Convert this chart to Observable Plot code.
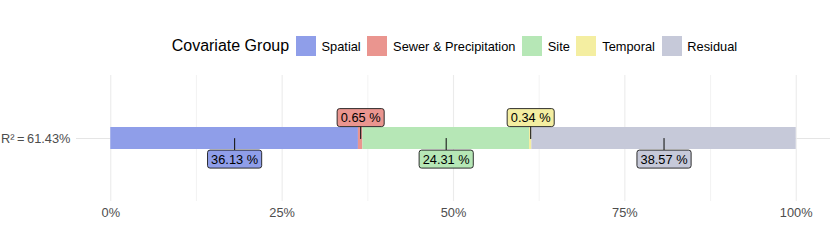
<!DOCTYPE html>
<html><head><meta charset="utf-8">
<script src="https://cdn.jsdelivr.net/npm/d3@7"></script>
<script src="https://cdn.jsdelivr.net/npm/@observablehq/plot@0.6"></script>
<style>
body{margin:0;background:#fff;font-family:"Liberation Sans",Arial,Helvetica,sans-serif;}
#wrap{position:relative;width:830px;height:249px;overflow:hidden;}
#legend{position:absolute;left:171.7px;top:36px;height:20px;display:flex;align-items:center;white-space:nowrap;color:#000;}
#legend .title{font-size:16px;margin-right:6.7px;}
#legend .key{width:20px;height:20px;flex:none;}
#legend .lab{font-size:12.8px;margin-left:5.8px;margin-right:6.6px;}
#chart{position:absolute;left:0;top:0;}
</style></head>
<body><div id="wrap"><div id="legend"></div><div id="chart"></div></div>
<script>
const legendTitle = "Covariate Group";
const groups = ["Spatial", "Sewer & Precipitation", "Site", "Temporal", "Residual"];
const shares = [36.13, 0.65, 24.31, 0.34, 38.57];
const colors = ["#8F9EE9", "#EA958F", "#B6E7B6", "#F4EEA1", "#C6C9D9"];
const rowLabel = "R\u00B2\u2009=\u200961.43%";
const xTicks = [0, 25, 50, 75, 100];
const xMinorTicks = [12.5, 37.5, 62.5, 87.5];

const data = groups.map((g, i) => ({group: g, value: shares[i], row: rowLabel}));
const isSmall = d => d.value < 5;
const fmt = d => d.toFixed(2) + " %";

// legend
const leg = d3.select("#legend");
leg.append("span").attr("class", "title").text(legendTitle);
groups.forEach((g, i) => {
  leg.append("div").attr("class", "key").style("background", colors[i]);
  leg.append("span").attr("class", "lab").text(g);
});

const lineShape = {draw(context, l) { context.moveTo(0, 0); context.lineTo(0, -l); }};

const plot = Plot.plot({
  width: 830,
  height: 249,
  marginLeft: 76,
  marginRight: 0,
  marginTop: 75,
  marginBottom: 48,
  style: {fontFamily: '"Liberation Sans", Arial, sans-serif', background: "transparent"},
  x: {domain: [-5, 105], ticks: xTicks, tickFormat: d => d + "%", tickSize: 0, tickPadding: 6, label: null},
  y: {domain: [rowLabel], padding: 0.703, tickSize: 0, tickPadding: 6, label: null, grid: true},
  color: {domain: groups, range: colors},
  marks: [
    Plot.ruleX(xMinorTicks, {stroke: "#EBEBEB", strokeWidth: 0.6}),
    Plot.ruleX(xTicks, {stroke: "#EBEBEB", strokeWidth: 1.1}),
    Plot.barX(data, Plot.stackX({x: "value", y: "row", fill: "group"})),
    Plot.vector(data, Plot.stackX({x: "value", y: "row", length: 12, rotate: d => isSmall(d) ? 0 : 180,
      shape: lineShape, anchor: "start", stroke: "#1a1a1a", strokeWidth: 1.1})),
    Plot.text(data, Plot.filter(isSmall, Plot.stackX({x: "value", y: "row", text: d => fmt(d.value),
      dy: -20.5, fontSize: 12.8, fill: "black"}))),
    Plot.text(data, Plot.filter(d => !isSmall(d), Plot.stackX({x: "value", y: "row", text: d => fmt(d.value),
      dy: 21, fontSize: 12.8, fill: "black"})))
  ]
});
plot.querySelectorAll("g[aria-label='y-axis tick label'], g[aria-label='x-axis tick label']").forEach(g => { g.setAttribute("fill", "#4D4D4D"); g.setAttribute("font-size", "12.8"); });
document.getElementById("chart").appendChild(plot);

// label boxes behind the label texts, coloured by their group
const svgRect = plot.getBoundingClientRect();
const NS = "http://www.w3.org/2000/svg";
data.forEach(d => {
  const t = Array.from(plot.querySelectorAll("text")).find(el => el.textContent === fmt(d.value));
  if (!t) return;
  const b = t.getBoundingClientRect();
  const cx = b.left + b.width / 2 - svgRect.left;
  const cy = b.top + b.height / 2 - svgRect.top;
  const w = b.width + 7.2, h = 18;
  const r = document.createElementNS(NS, "rect");
  r.setAttribute("x", cx - w / 2);
  r.setAttribute("y", cy - h / 2);
  r.setAttribute("width", w);
  r.setAttribute("height", h);
  r.setAttribute("rx", 2.5);
  r.setAttribute("fill", colors[groups.indexOf(d.group)]);
  r.setAttribute("stroke", "#1a1a1a");
  r.setAttribute("stroke-width", 0.9);
  let g = t.parentNode;
  while (g.parentNode !== plot) g = g.parentNode;
  plot.insertBefore(r, g);
});
</script>
</body></html>
